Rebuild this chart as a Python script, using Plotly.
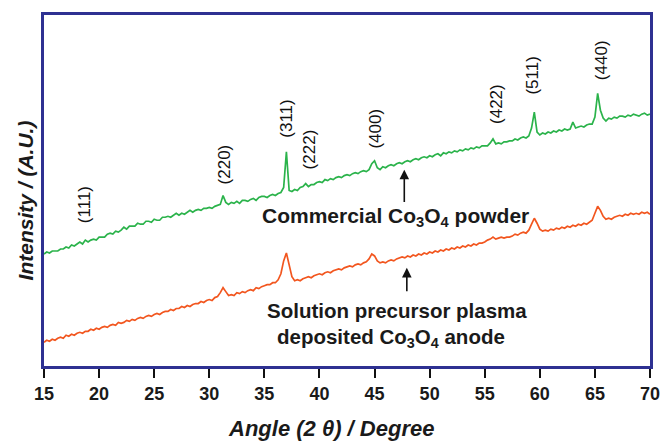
import numpy as np
import plotly.graph_objects as go

# 2-theta sampling grid (degrees)
two_theta = np.round(np.arange(15.0, 70.0001, 0.25), 2)

# Commercial Co3O4 powder (arbitrary intensity units)
commercial = [
    113, 115, 114, 116, 116, 116, 118, 118, 120, 119,
    122, 121, 123, 125, 123, 127, 125, 127, 128, 127,
    130, 130, 130, 133, 134, 133, 136, 135, 137, 140,
    138, 141, 141, 141, 144, 143, 143, 146, 146, 145,
    148, 147, 147, 150, 150, 151, 150, 152, 154, 152,
    154, 153, 155, 157, 155, 157, 158, 157, 159, 159,
    160, 159, 161, 162, 163, 172, 165, 163, 165, 164,
    166, 164, 167, 167, 166, 168, 169, 167, 170, 171,
    171, 170, 172, 173, 172, 174, 175, 180, 216, 177,
    176, 178, 177, 180, 181, 184, 181, 183, 183, 185,
    186, 185, 188, 187, 189, 188, 190, 191, 190, 192,
    193, 192, 194, 195, 194, 196, 197, 196, 198, 204,
    207, 200, 198, 201, 200, 202, 203, 202, 204, 205,
    204, 206, 207, 206, 208, 209, 208, 210, 211, 210,
    212, 211, 213, 214, 212, 215, 214, 216, 215, 217,
    216, 218, 217, 219, 218, 220, 219, 221, 220, 222,
    222, 222, 225, 229, 224, 225, 224, 226, 226, 227,
    227, 229, 228, 230, 231, 230, 232, 240, 256, 236,
    233, 235, 234, 236, 235, 237, 236, 238, 237, 239,
    238, 239, 246, 240, 241, 242, 241, 243, 244, 244,
    251, 275, 258, 250, 247, 250, 249, 251, 250, 252,
    252, 251, 253, 252, 254, 253, 252, 254, 255, 253,
    254,
]

# Solution precursor plasma deposited Co3O4 anode
deposited = [
    24, 26, 25, 27, 26, 28, 29, 28, 31, 30,
    32, 31, 33, 34, 33, 35, 35, 37, 36, 38,
    37, 39, 40, 39, 41, 42, 41, 44, 43, 44,
    46, 45, 47, 46, 48, 49, 48, 50, 51, 50,
    52, 53, 52, 54, 55, 55, 57, 56, 58, 58,
    60, 59, 61, 60, 62, 63, 63, 65, 64, 66,
    67, 66, 69, 70, 74, 79, 75, 71, 72, 71,
    74, 73, 75, 74, 76, 77, 76, 79, 78, 80,
    81, 82, 82, 84, 84, 87, 93, 106, 114, 103,
    90, 86, 87, 86, 88, 89, 90, 89, 91, 92,
    93, 92, 94, 95, 94, 96, 97, 98, 97, 99,
    100, 101, 100, 102, 103, 102, 104, 105, 108, 113,
    111, 106, 104, 105, 104, 106, 107, 106, 108, 109,
    110, 109, 111, 110, 112, 111, 113, 112, 114, 113,
    115, 114, 116, 115, 117, 116, 118, 117, 119, 118,
    120, 119, 121, 120, 122, 121, 123, 122, 124, 124,
    125, 127, 128, 130, 128, 129, 130, 129, 130, 130,
    131, 133, 132, 134, 135, 134, 137, 143, 149, 144,
    138, 136, 137, 136, 138, 137, 139, 138, 140, 139,
    141, 140, 142, 141, 143, 142, 144, 143, 145, 147,
    154, 161, 157, 151, 148, 149, 148, 150, 151, 152,
    151, 153, 152, 154, 153, 154, 153, 155, 154, 155,
    153,
]

# Miller indices and where their labels sit (angle, intensity)
hkl_labels = ["(111)", "(220)", "(311)", "(222)", "(400)", "(422)", "(511)", "(440)"]
hkl_angle = [18.7, 31.4, 36.93, 39.1, 45.0, 56.0, 59.3, 65.6]
hkl_level = [163, 203, 249, 218, 239, 264, 293, 308]

x_ticks = [15, 20, 25, 30, 35, 40, 45, 50, 55, 60, 65, 70]

FONT = "Liberation Sans, Arial, Helvetica, sans-serif"
FRAME = "#2e3192"
GREEN = "#2bb34b"
ORANGE = "#f2561f"
INK = "#1a1a1a"

fig = go.Figure()
fig.add_trace(go.Scatter(x=two_theta, y=commercial, mode="lines",
                         line=dict(color=GREEN, width=1.7), showlegend=False))
fig.add_trace(go.Scatter(x=two_theta, y=deposited, mode="lines",
                         line=dict(color=ORANGE, width=1.7), showlegend=False))

annotations = []
for lab, ang, lev in zip(hkl_labels, hkl_angle, hkl_level):
    annotations.append(dict(x=ang, y=lev, xref="x", yref="y", text=lab,
                            textangle=-90, showarrow=False,
                            xanchor="center", yanchor="middle",
                            font=dict(family=FONT, size=17, color="#111111")))

# sample labels with arrows pointing at the traces
annotations += [
    dict(x=46.9, y=150, xref="x", yref="y", showarrow=False,
         xanchor="center", yanchor="middle",
         text="Commercial Co<sub>3</sub>O<sub>4</sub> powder",
         font=dict(family=FONT, size=21, color=INK, weight="bold")),
    dict(x=47.0, y=56, xref="x", yref="y", showarrow=False,
         xanchor="center", yanchor="middle",
         text="Solution precursor plasma",
         font=dict(family=FONT, size=20.5, color=INK, weight="bold")),
    dict(x=46.5, y=28, xref="x", yref="y", showarrow=False,
         xanchor="center", yanchor="middle",
         text="deposited Co<sub>3</sub>O<sub>4</sub> anode",
         font=dict(family=FONT, size=20.5, color=INK, weight="bold")),
    dict(x=47.7, y=198, xref="x", yref="y", ax=47.7, ay=164, axref="x", ayref="y",
         showarrow=True, arrowhead=2, arrowsize=1.2, arrowwidth=1.6,
         arrowcolor="#111111", text=""),
    dict(x=47.93, y=99, xref="x", yref="y", ax=47.93, ay=74, axref="x", ayref="y",
         showarrow=True, arrowhead=2, arrowsize=1.2, arrowwidth=1.6,
         arrowcolor="#111111", text=""),
    # axis titles
    dict(x=-0.0313, y=0.4718, xref="paper", yref="paper", showarrow=False,
         xanchor="center", yanchor="middle",
         text="<i>Intensity / (A.U.)</i>", textangle=-90,
         font=dict(family=FONT, size=21, color=INK, weight="bold")),
    dict(x=0.4736, y=-0.178, xref="paper", yref="paper", showarrow=False,
         xanchor="center", yanchor="middle",
         text="<i>Angle (2 θ) / Degree</i>",
         font=dict(family=FONT, size=22, color=INK, weight="bold")),
]

fig.update_layout(
    width=672, height=442,
    margin=dict(l=44, r=21, t=12, b=76),
    paper_bgcolor="white", plot_bgcolor="white",
    annotations=annotations,
    xaxis=dict(range=[15, 70], tickvals=x_ticks, ticks="outside", ticklen=9,
               tickwidth=2, tickcolor="#111111", showgrid=False, zeroline=False,
               showline=True, linecolor=FRAME, linewidth=3, mirror=True,
               tickfont=dict(family=FONT, size=18, color=INK, weight="bold")),
    yaxis=dict(range=[0, 354], showticklabels=False, ticks="", showgrid=False,
               zeroline=False, showline=True, linecolor=FRAME, linewidth=3,
               mirror=True),
)

fig.write_html("out.html")
